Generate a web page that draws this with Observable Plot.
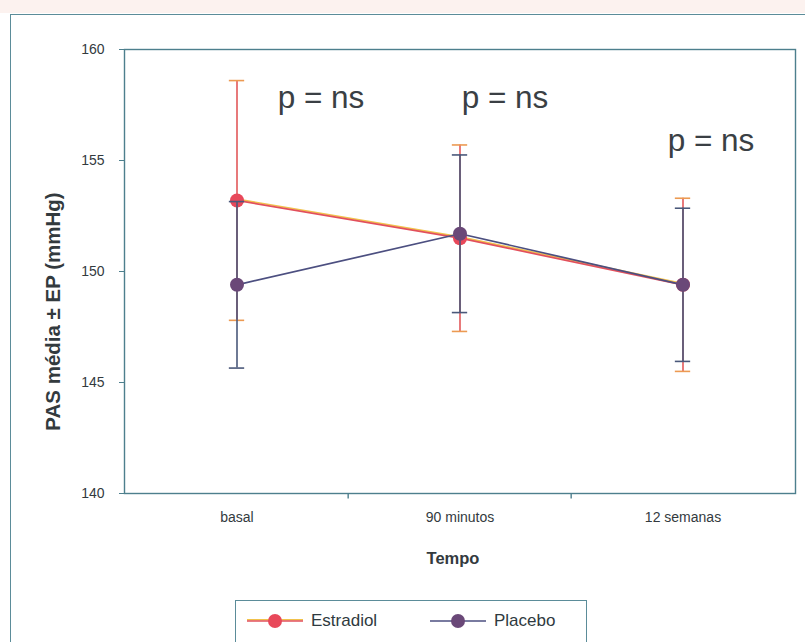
<!DOCTYPE html>
<html><head><meta charset="utf-8">
<script src="https://cdn.jsdelivr.net/npm/d3@7"></script>
<script src="https://cdn.jsdelivr.net/npm/@observablehq/plot@0.6"></script>
<style>
html,body{margin:0;padding:0;background:#fff;overflow:hidden;width:805px;height:642px;font-family:"Liberation Sans",Arial,sans-serif;}
#topband{position:absolute;left:0;top:0;width:805px;height:13px;background:#fcf2ef;}
#outer{position:absolute;left:10px;top:14px;width:840px;height:700px;border:1.5px solid #5b8c99;box-sizing:border-box;}
#chart{position:absolute;left:0;top:0;}
#legend{position:absolute;left:235px;top:600px;width:352px;height:60px;border:1.5px solid #5b8c99;background:#fff;box-sizing:border-box;font-size:17px;color:#2f3a40;}
#legend .item{position:absolute;top:10px;display:flex;align-items:center;}
#legend svg{display:block;}
</style></head><body>
<div id="topband"></div>
<div id="outer"></div>
<div id="chart"></div>
<div id="legend"></div>
<script>
// ---- data ----
const timepoints = ["basal", "90 minutos", "12 semanas"];
const seriesNames = ["Estradiol", "Placebo"];
const estradiolMean = [153.2, 151.5, 149.4];
const estradiolErr  = [5.4, 4.2, 3.9];
const placeboMean   = [149.4, 151.7, 149.4];
const placeboErr    = [3.75, 3.55, 3.45];
const yTicks = [140, 145, 150, 155, 160];
const pLabels = ["p = ns", "p = ns", "p = ns"];
const pLabelY = [157.8, 157.8, 155.9];
const yLabel = "PAS média ± EP (mmHg)";
const xLabel = "Tempo";

// ---- styles ----
const W = 805, H = 595;
const mL = 124, mR = 10, mT = 49, mB = 102;
const bw = (W - mL - mR) / timepoints.length;
const frameColor = "#4d7f8d";
const textColor = "#333a3e";
const est = {line: "#e2505c", shadow: "#f1c24c", bar: "#e2585a", cap: "#ec9a52", point: "#e8485a"};
const pla = {line: "#4c4f80", bar: "#4a587a", cap: "#4a587a", point: "#6a4878"};
const pDx = [84, 45, 28];

function rowsFor(name, means, errs) {
  return timepoints.map((t, i) => ({series: name, time: t, mean: means[i], lo: means[i] - errs[i], hi: means[i] + errs[i]}));
}
const estRows = rowsFor(seriesNames[0], estradiolMean, estradiolErr);
const plaRows = rowsFor(seriesNames[1], placeboMean, placeboErr);
const capInset = (bw - 16) / 2;

function seriesMarks(rows, c, isEst) {
  const m = [
    Plot.ruleX(rows, {x: "time", y1: "lo", y2: "hi", stroke: c.bar, strokeWidth: 1.6}),
    Plot.tickY(rows, {x: "time", y: "hi", stroke: c.cap, strokeWidth: 1.6, insetLeft: capInset, insetRight: capInset}),
    Plot.tickY(rows, {x: "time", y: "lo", stroke: c.cap, strokeWidth: 1.6, insetLeft: capInset, insetRight: capInset})
  ];
  if (isEst) m.push(Plot.line(rows, {x: "time", y: "mean", stroke: c.shadow, strokeWidth: 1.6, dy: -1.3}));
  m.push(Plot.line(rows, {x: "time", y: "mean", stroke: c.line, strokeWidth: 1.7}));
  m.push(Plot.dot(rows, {x: "time", y: "mean", r: 7, fill: c.point, stroke: "none"}));
  return m;
}

const pMarks = timepoints.map((t, i) =>
  Plot.text([{time: t, y: pLabelY[i], label: pLabels[i]}],
    {x: "time", y: "y", text: "label", dx: pDx[i], fontSize: 31.5, fill: "#3a3f44"}));

const chart = Plot.plot({
  width: W, height: H,
  marginLeft: mL, marginRight: mR, marginTop: mT, marginBottom: mB,
  style: {fontFamily: "'Liberation Sans', Arial, sans-serif", background: "transparent", color: textColor},
  x: {type: "band", domain: timepoints, padding: 0},
  y: {domain: [140, 160]},
  marks: [
    Plot.frame({stroke: frameColor, strokeWidth: 1.4}),
    Plot.axisY({ticks: yTicks, tickSize: 5, tickPadding: 15, label: null, fontSize: 14, stroke: frameColor, fill: textColor}),
    Plot.axisX({tickSize: 0, tickPadding: 19, label: null, fontSize: 14, fill: textColor}),
    Plot.ruleX(timepoints.slice(1), {x: d => d, dx: -bw / 2, y1: 140, y2: 139.75, stroke: frameColor, strokeWidth: 1.4}),
    Plot.text([yLabel], {frameAnchor: "left", text: d => d, rotate: -90, textAnchor: "middle", dx: -71, dy: 40, fontSize: 20.5, fontWeight: "bold", fill: textColor}),
    Plot.text([xLabel], {frameAnchor: "bottom", text: d => d, textAnchor: "middle", dx: -7, dy: 70, fontSize: 16.5, fontWeight: "bold", fill: textColor}),
    ...seriesMarks(estRows, est, true),
    ...seriesMarks(plaRows, pla, false),
    ...pMarks
  ]
});
document.getElementById("chart").append(chart);

// ---- legend ----
function swatch(c, isEst) {
  const ns = "http://www.w3.org/2000/svg";
  const svg = document.createElementNS(ns, "svg");
  svg.setAttribute("width", 56); svg.setAttribute("height", 20);
  if (isEst) {
    const s = document.createElementNS(ns, "line");
    Object.entries({x1: 0, x2: 56, y1: 8.7, y2: 8.7, stroke: c.shadow, "stroke-width": 1.6}).forEach(([k, v]) => s.setAttribute(k, v));
    svg.append(s);
  }
  const l = document.createElementNS(ns, "line");
  Object.entries({x1: 0, x2: 56, y1: 10, y2: 10, stroke: c.line, "stroke-width": 1.6}).forEach(([k, v]) => l.setAttribute(k, v));
  const d = document.createElementNS(ns, "circle");
  Object.entries({cx: 28, cy: 10, r: 7, fill: c.point}).forEach(([k, v]) => d.setAttribute(k, v));
  svg.append(l, d);
  return svg;
}
const legend = document.getElementById("legend");
[[seriesNames[0], est, true, 11], [seriesNames[1], pla, false, 194]].forEach(([name, c, isEst, left]) => {
  const item = document.createElement("div");
  item.className = "item";
  item.style.left = left + "px";
  const sw = swatch(c, isEst);
  sw.style.marginRight = "8px";
  const span = document.createElement("span");
  span.textContent = name;
  item.append(sw, span);
  legend.append(item);
});
</script>
</body></html>
